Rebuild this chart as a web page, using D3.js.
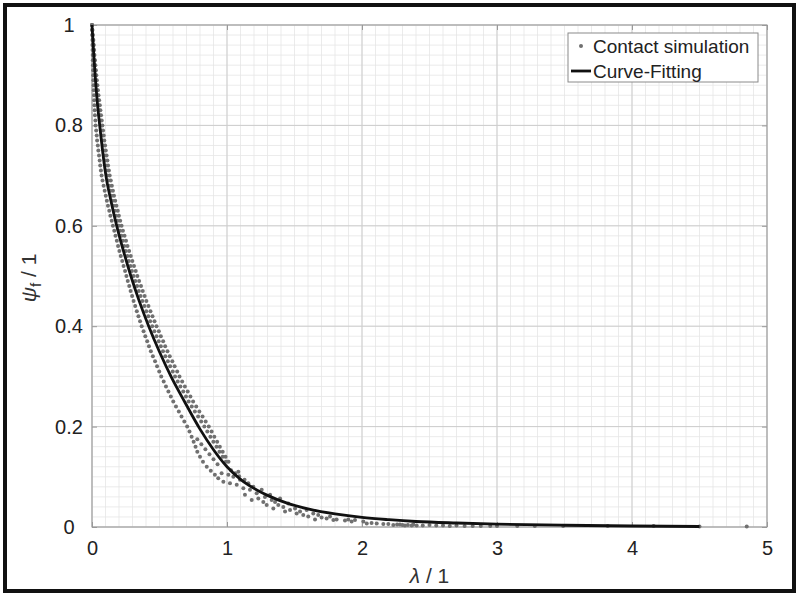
<!DOCTYPE html>
<html>
<head>
<meta charset="utf-8">
<script src="https://cdn.jsdelivr.net/npm/d3@7"></script>
<style>
  body { margin: 0; background: #fff; }
  text { font-family: "Liberation Sans", Arial, Helvetica, sans-serif; }
</style>
</head>
<body>
<div id="chart-area"></div>
<script>
const psiLevels = [
  1.00, 0.99, 0.98, 0.97, 0.96, 0.95, 0.94, 0.93, 0.92, 0.91,
  0.90, 0.89, 0.88, 0.87, 0.86, 0.85, 0.84, 0.83, 0.82, 0.81,
  0.80, 0.79, 0.78, 0.77, 0.76, 0.75, 0.74, 0.73, 0.72, 0.71,
  0.70, 0.69, 0.68, 0.67, 0.66, 0.65, 0.64, 0.63, 0.62, 0.61,
  0.60, 0.59, 0.58, 0.57, 0.56, 0.55, 0.54, 0.53, 0.52, 0.51,
  0.50, 0.49, 0.48, 0.47, 0.46, 0.45, 0.44, 0.43, 0.42, 0.41,
  0.40, 0.39, 0.38, 0.37, 0.36, 0.35, 0.34, 0.33, 0.32, 0.31,
  0.30, 0.29, 0.28, 0.27, 0.26, 0.25, 0.24, 0.23, 0.22, 0.21,
  0.20, 0.19, 0.18, 0.17, 0.16, 0.15, 0.14, 0.13
];
const lambdaUpperOuter = [
  0.000, 0.003, 0.006, 0.010, 0.013, 0.016, 0.018, 0.022, 0.025, 0.029,
  0.032, 0.036, 0.040, 0.044, 0.048, 0.053, 0.058, 0.062, 0.067, 0.072,
  0.077, 0.082, 0.087, 0.091, 0.097, 0.102, 0.108, 0.114, 0.119, 0.125,
  0.131, 0.139, 0.147, 0.155, 0.163, 0.172, 0.181, 0.191, 0.199, 0.209,
  0.219, 0.229, 0.241, 0.252, 0.263, 0.275, 0.287, 0.299, 0.311, 0.324,
  0.336, 0.349, 0.363, 0.376, 0.390, 0.403, 0.418, 0.433, 0.448, 0.463,
  0.478, 0.495, 0.510, 0.527, 0.542, 0.559, 0.576, 0.595, 0.612, 0.631,
  0.648, 0.668, 0.688, 0.709, 0.729, 0.749, 0.772, 0.795, 0.819, 0.842,
  0.865, 0.886, 0.906, 0.927, 0.947, 0.968, 0.989, 1.011
];
const lambdaUpperInner = [
  0.000, 0.002, 0.005, 0.008, 0.010, 0.013, 0.014, 0.018, 0.020, 0.024,
  0.026, 0.029, 0.033, 0.036, 0.040, 0.043, 0.047, 0.051, 0.055, 0.060,
  0.064, 0.068, 0.073, 0.077, 0.082, 0.087, 0.092, 0.097, 0.102, 0.108,
  0.113, 0.120, 0.128, 0.136, 0.144, 0.152, 0.160, 0.170, 0.178, 0.188,
  0.197, 0.208, 0.218, 0.229, 0.239, 0.250, 0.262, 0.273, 0.285, 0.296,
  0.308, 0.321, 0.334, 0.347, 0.360, 0.373, 0.388, 0.402, 0.417, 0.431,
  0.446, 0.462, 0.478, 0.494, 0.510, 0.526, 0.543, 0.562, 0.579, 0.598,
  0.615, 0.635, 0.655, 0.676, 0.696, 0.716, 0.739, 0.762, 0.786, 0.809,
  0.832, 0.854, 0.877, 0.899, 0.922, 0.944, 0.968, 0.991
];
const lambdaLower = [
  0.000, 0.001, 0.001, 0.003, 0.003, 0.004, 0.005, 0.006, 0.007, 0.008,
  0.009, 0.010, 0.012, 0.013, 0.015, 0.016, 0.018, 0.020, 0.022, 0.025,
  0.027, 0.031, 0.035, 0.038, 0.043, 0.047, 0.052, 0.057, 0.061, 0.066,
  0.071, 0.078, 0.086, 0.094, 0.102, 0.110, 0.118, 0.128, 0.136, 0.146,
  0.155, 0.165, 0.174, 0.184, 0.193, 0.203, 0.213, 0.224, 0.234, 0.245,
  0.255, 0.265, 0.276, 0.286, 0.297, 0.308, 0.320, 0.332, 0.344, 0.356,
  0.368, 0.382, 0.395, 0.409, 0.422, 0.436, 0.451, 0.467, 0.482, 0.498,
  0.513, 0.531, 0.548, 0.566, 0.584, 0.602, 0.622, 0.643, 0.663, 0.684,
  0.705, 0.722, 0.738, 0.753, 0.767, 0.780, 0.800, 0.822
];

// loose simulation points in the tail (lambda > ~0.8)
const scatterLambda = [
  0.78, 0.81, 0.84, 0.87, 0.90, 0.93, 0.85, 0.88, 0.91, 0.935,
  1.03, 1.06, 1.09, 1.13,
  0.960, 0.973, 1.010, 1.022, 1.047, 1.072, 1.084, 1.096, 1.121, 1.133,
  1.158, 1.170, 1.183, 1.195, 1.220, 1.232, 1.257, 1.269, 1.281, 1.294,
  1.319, 1.331, 1.343, 1.356, 1.380, 1.393, 1.417, 1.430, 1.454, 1.467,
  1.504, 1.516, 1.541, 1.565, 1.590, 1.602, 1.639, 1.652, 1.676, 1.701,
  1.738, 1.763, 1.788, 1.812, 1.874, 1.898, 1.923, 1.948, 2.010, 2.035,
  2.071, 2.109, 2.158, 2.195, 2.232, 2.281, 2.318, 2.368, 2.405,
  2.26, 2.30, 2.34, 2.38, 2.45, 2.50, 2.55, 2.60, 2.65, 2.70,
  2.76, 2.82, 2.88, 2.95, 3.00, 3.15, 3.28, 3.49, 3.82, 4.16, 4.50, 4.85
];
const scatterPsi = [
  0.175, 0.165, 0.155, 0.145, 0.135, 0.125, 0.120, 0.112, 0.104, 0.097,
  0.113, 0.107, 0.101, 0.094,
  0.107, 0.090, 0.104, 0.087, 0.100, 0.084, 0.110, 0.094, 0.077, 0.064,
  0.087, 0.074, 0.054, 0.080, 0.067, 0.057, 0.074, 0.050, 0.060, 0.044,
  0.064, 0.054, 0.037, 0.050, 0.044, 0.057, 0.040, 0.031, 0.047, 0.034,
  0.037, 0.027, 0.031, 0.024, 0.034, 0.021, 0.027, 0.015, 0.024, 0.019,
  0.017, 0.021, 0.014, 0.015, 0.013, 0.015, 0.011, 0.014, 0.011, 0.007,
  0.008, 0.007, 0.006, 0.006, 0.004, 0.005, 0.003, 0.003, 0.003,
  0.005, 0.004, 0.004, 0.005, 0.003, 0.004, 0.003, 0.003, 0.002, 0.003,
  0.002, 0.002, 0.002, 0.002, 0.002, 0.002, 0.002, 0.002, 0.002, 0.002, 0.001, 0.001
];

// curve fitting line
const fitLambda = [
  0, 0.011, 0.023, 0.038, 0.057, 0.078, 0.103, 0.140, 0.183, 0.233,
  0.288, 0.350, 0.420, 0.498, 0.585, 0.685, 0.800, 0.900, 1.00, 1.10,
  1.20, 1.30, 1.44, 1.60, 1.80, 2.0, 2.2, 2.4, 2.7, 3.0, 3.5, 4.0, 4.5
];
const fitPsi = [
  1, 0.95, 0.90, 0.85, 0.80, 0.75, 0.70, 0.65, 0.60, 0.55,
  0.50, 0.45, 0.40, 0.35, 0.30, 0.25, 0.195, 0.154, 0.120, 0.095,
  0.077, 0.063, 0.048, 0.036, 0.026, 0.019, 0.0145, 0.011, 0.008, 0.0058, 0.0035, 0.002, 0.001
];

const xTicks = [0, 1, 2, 3, 4, 5];
const yTicks = [0, 0.2, 0.4, 0.6, 0.8, 1];
const legendLabels = ["Contact simulation", "Curve-Fitting"];

make_chart(d3);

function make_chart(d3) {
  let W = 800, H = 598;
  let margin = { left: 92, right: 33, top: 25, bottom: 71 };
  let width = W - margin.left - margin.right;   // 675
  let height = H - margin.top - margin.bottom;  // 502

  let svg = d3.select("#chart-area")
    .append("svg")
      .attr("width", W)
      .attr("height", H);

  // outer black frame
  svg.append("rect")
    .attr("x", 5).attr("y", 5)
    .attr("width", 789).attr("height", 586)
    .attr("fill", "none")
    .attr("stroke", "#111")
    .attr("stroke-width", 4);

  let group = svg.append("g")
    .attr("transform", `translate(${margin.left}, ${margin.top})`);

  let x = d3.scaleLinear().domain([0, 5]).range([0, width]);
  let y = d3.scaleLinear().domain([0, 1]).range([height, 0]);

  // ----------------- Grid -----------------
  let grid = group.append("g");
  grid.selectAll(".minor-x")
    .data(x.ticks(50))
    .enter().append("line")
      .attr("x1", d => x(d)).attr("x2", d => x(d))
      .attr("y1", 0).attr("y2", height)
      .attr("stroke", "#e6e6e6").attr("stroke-width", 0.8);
  grid.selectAll(".minor-y")
    .data(y.ticks(50))
    .enter().append("line")
      .attr("y1", d => y(d)).attr("y2", d => y(d))
      .attr("x1", 0).attr("x2", width)
      .attr("stroke", "#e6e6e6").attr("stroke-width", 0.8);
  grid.selectAll(".major-x")
    .data(xTicks)
    .enter().append("line")
      .attr("x1", d => x(d)).attr("x2", d => x(d))
      .attr("y1", 0).attr("y2", height)
      .attr("stroke", "#cdcdcd").attr("stroke-width", 1);
  grid.selectAll(".major-y")
    .data(yTicks)
    .enter().append("line")
      .attr("y1", d => y(d)).attr("y2", d => y(d))
      .attr("x1", 0).attr("x2", width)
      .attr("stroke", "#cdcdcd").attr("stroke-width", 1);

  // ----------------- Axes -----------------
  group.append("g")
    .attr("transform", `translate(0, ${height})`)
    .call(d3.axisBottom(x).tickValues(xTicks).tickSizeInner(-5).tickSizeOuter(0).tickPadding(14).tickFormat(d3.format("")));
  let y_axis = group.append("g")
    .call(d3.axisLeft(y).tickValues(yTicks).tickSizeInner(-5).tickSizeOuter(0).tickFormat(d3.format("")));
  group.append("g")
    .call(d3.axisTop(x).tickValues(xTicks).tickSizeInner(-5).tickSizeOuter(0).tickFormat(""));
  group.append("g")
    .attr("transform", `translate(${width}, 0)`)
    .call(d3.axisRight(y).tickValues(yTicks).tickSizeInner(-5).tickSizeOuter(0).tickFormat(""));

  group.selectAll(".domain").remove();
  group.selectAll(".tick line").attr("stroke", "#999");
  group.selectAll(".tick text")
    .attr("fill", "#222")
    .attr("font-size", "20px")
    .attr("font-family", "Liberation Sans, Arial, sans-serif");
  y_axis.selectAll(".tick text")
    .attr("text-anchor", "middle")
    .attr("x", -23);

  // axes box
  group.append("rect")
    .attr("x", 0).attr("y", 0)
    .attr("width", width).attr("height", height)
    .attr("fill", "none")
    .attr("stroke", "#999")
    .attr("stroke-width", 1);

  // ----------------- Simulation points -----------------
  let simPoints = [];
  [lambdaUpperOuter, lambdaUpperInner, lambdaLower].forEach(band => {
    band.forEach((l, i) => simPoints.push([l, psiLevels[i]]));
  });
  scatterLambda.forEach((l, i) => simPoints.push([l, scatterPsi[i]]));

  group.append("g")
    .selectAll("circle")
    .data(simPoints)
    .enter().append("circle")
      .attr("cx", d => x(d[0]))
      .attr("cy", d => y(d[1]))
      .attr("r", 2)
      .attr("fill", "#707070");

  // ----------------- Fit line -----------------
  let line = d3.line()
    .x(d => x(d[0]))
    .y(d => y(d[1]))
    .curve(d3.curveMonotoneX);
  group.append("path")
    .datum(fitLambda.map((l, i) => [l, fitPsi[i]]))
    .attr("d", line)
    .attr("fill", "none")
    .attr("stroke", "#111")
    .attr("stroke-width", 2.8);

  // ----------------- Labels -----------------
  let x_label = svg.append("text")
    .attr("x", margin.left + width / 2)
    .attr("y", 583)
    .attr("text-anchor", "middle")
    .attr("font-size", "21px")
    .attr("fill", "#333");
  x_label.append("tspan").attr("font-style", "italic").text("λ");
  x_label.append("tspan").text(" / 1");

  let y_label = svg.append("text")
    .attr("transform", "translate(36, 278) rotate(-90)")
    .attr("text-anchor", "middle")
    .attr("font-size", "21px")
    .attr("fill", "#333");
  y_label.append("tspan").attr("font-style", "italic").text("ψ");
  y_label.append("tspan").attr("dy", 5).attr("font-size", "15px").text("f");
  y_label.append("tspan").attr("dy", -5).text(" / 1");

  // ----------------- Legend -----------------
  let legend = svg.append("g");
  legend.append("rect")
    .attr("x", 568).attr("y", 33)
    .attr("width", 190).attr("height", 49)
    .attr("fill", "#fff")
    .attr("stroke", "#8a8a8a")
    .attr("stroke-width", 1);
  legend.append("circle")
    .attr("cx", 581).attr("cy", 46).attr("r", 2)
    .attr("fill", "#707070");
  legend.append("line")
    .attr("x1", 571).attr("x2", 591)
    .attr("y1", 71).attr("y2", 71)
    .attr("stroke", "#111").attr("stroke-width", 2.8);
  legend.selectAll("text")
    .data(legendLabels)
    .enter().append("text")
      .attr("x", 593)
      .attr("y", (d, i) => 53 + i * 25)
      .attr("font-size", "19px")
      .attr("fill", "#222")
      .text(d => d);
}
</script>
</body>
</html>
